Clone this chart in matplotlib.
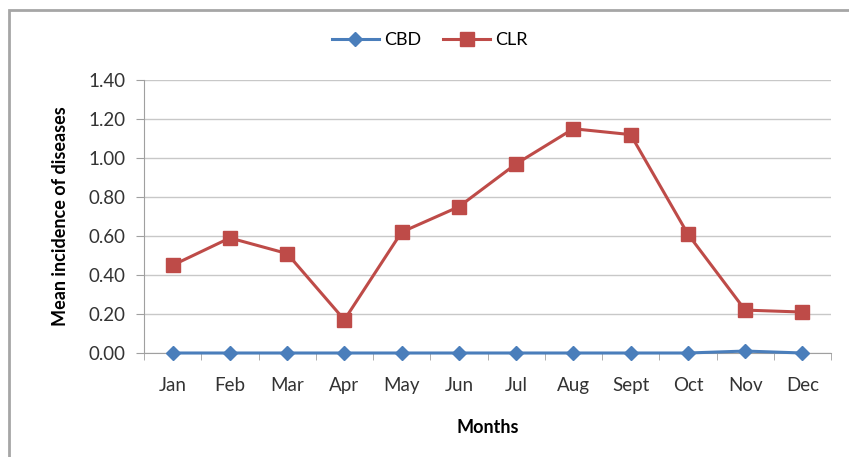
import matplotlib.pyplot as plt
from matplotlib.patches import Rectangle
from matplotlib.ticker import FixedLocator
import numpy as np

plt.rcParams['font.family'] = ['Lato', 'DejaVu Sans']

# donnees
mois = ["Jan", "Feb", "Mar", "Apr", "May", "Jun", "Jul", "Aug", "Sept", "Oct", "Nov", "Dec"]
cbd = [0.00, 0.00, 0.00, 0.00, 0.00, 0.00, 0.00, 0.00, 0.00, 0.00, 0.01, 0.00]
clr = [0.45, 0.59, 0.51, 0.17, 0.62, 0.75, 0.97, 1.15, 1.12, 0.61, 0.22, 0.21]

W, H = 849, 457
fig = plt.figure(figsize=(W / 100, H / 100), dpi=100)

# cadre gris autour du graphique
fig.patches.append(Rectangle((9 / W, -0.05), 1.1, 1 - 10 / H + 0.05,
                             transform=fig.transFigure, fill=False,
                             edgecolor='#a6a6a6', linewidth=2))

ax = fig.add_axes([144 / W, 1 - 353 / H, (831 - 144) / W, (353 - 80) / H])

x = np.arange(len(mois))
ax.plot(x, cbd, color='#4a7ebb', linewidth=2.2, marker='D', markersize=7,
        label='CBD', zorder=3, clip_on=False)
ax.plot(x, clr, color='#be4b48', linewidth=2.2, marker='s', markersize=10,
        label='CLR', zorder=3, clip_on=False)

ax.set_xlim(-0.5, len(mois) - 0.5)
ax.set_ylim(0, 1.4)
ax.set_yticks(np.arange(0, 1.41, 0.2))
ax.set_yticklabels(["{0:.2f}".format(v) for v in np.arange(0, 1.41, 0.2)])
ax.set_xticks(x)
ax.set_xticklabels(mois)
ax.xaxis.set_minor_locator(FixedLocator(np.arange(-0.5, len(mois), 1)))

ax.grid(axis='y', color='#c8c8c8', linewidth=1)
ax.set_axisbelow(True)
for s in ['top', 'right']:
    ax.spines[s].set_visible(False)
ax.spines['left'].set_color('#a0a0a0')
ax.spines['bottom'].set_color('#a0a0a0')

ax.tick_params(axis='y', length=6, color='#a0a0a0', labelsize=13.5, labelcolor='#333333', pad=7)
ax.tick_params(axis='x', which='major', length=0, labelsize=13.5, labelcolor='#333333', pad=17)
ax.tick_params(axis='x', which='minor', length=5, color='#a0a0a0')

ax.set_xlabel("Months", fontsize=13, fontweight='bold', labelpad=18)
ax.set_ylabel("Mean incidence of diseases", fontsize=13, fontweight='bold', labelpad=14)

fig.legend(loc='center', bbox_to_anchor=(430 / W, 1 - 40 / H), ncol=2, frameon=False,
           fontsize=13, handlelength=2.6, columnspacing=1.2, handletextpad=0.3)

plt.savefig("out.png", dpi=100)
